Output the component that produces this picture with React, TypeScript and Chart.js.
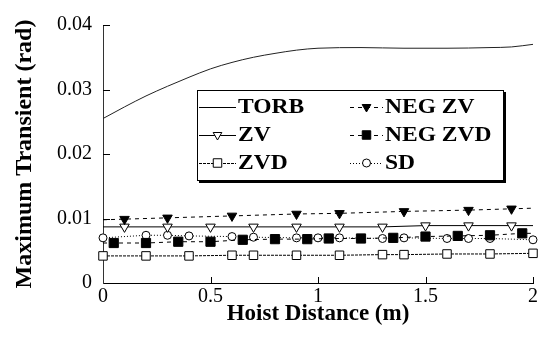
import React, { useEffect, useRef } from 'react';
import { Chart, registerables } from 'chart.js';

Chart.register(...registerables);

// ---------- data ----------
const X_TICKS = [0, 0.5, 1, 1.5, 2];
const X_TICK_LABELS = ['0', '0.5', '1', '1.5', '2'];
const Y_TICKS = [0, 0.01, 0.02, 0.03, 0.04];
const Y_TICK_LABELS = ['0', '0.01', '0.02', '0.03', '0.04'];

const TORB_X = [0, 0.1, 0.2, 0.3, 0.4, 0.5, 0.6, 0.7, 0.8, 0.9, 1.0, 1.2, 1.4, 1.6, 1.8, 1.9, 2.0];
const TORB_Y = [0.0255, 0.0273, 0.029, 0.0305, 0.0319, 0.0332, 0.0342, 0.035, 0.0356, 0.0361, 0.0364, 0.0365, 0.0364, 0.0364, 0.0365, 0.0366, 0.037];

const NEG_ZV_X = [0, 0.1, 0.3, 0.6, 0.9, 1.1, 1.4, 1.7, 1.9, 2.0];
const NEG_ZV_Y = [0.0098, 0.0099, 0.0101, 0.0104, 0.0107, 0.0108, 0.0111, 0.0113, 0.0115, 0.0116];

const ZV_X = [0, 0.1, 0.3, 0.5, 0.7, 0.9, 1.1, 1.3, 1.5, 1.7, 1.9, 2.0];
const ZV_Y = [0.0087, 0.0087, 0.0087, 0.0087, 0.0087, 0.0087, 0.0087, 0.0087, 0.0089, 0.0089, 0.0089, 0.0089];

const NEG_ZVD_X = [0, 0.05, 0.2, 0.35, 0.5, 0.65, 0.8, 0.95, 1.05, 1.2, 1.35, 1.5, 1.65, 1.8, 1.95, 2.0];
const NEG_ZVD_Y = [0.0062, 0.0062, 0.0062, 0.0064, 0.0064, 0.0067, 0.0068, 0.0068, 0.0069, 0.0069, 0.007, 0.0072, 0.0073, 0.0074, 0.0077, 0.0077];

const ZVD_X = [0, 0.2, 0.4, 0.6, 0.7, 0.9, 1.1, 1.3, 1.4, 1.6, 1.8, 2.0];
const ZVD_Y = [0.0042, 0.0042, 0.0042, 0.0043, 0.0043, 0.0043, 0.0043, 0.0044, 0.0044, 0.0045, 0.0045, 0.0046];

const SD_X = [0, 0.2, 0.3, 0.4, 0.6, 0.7, 0.9, 1.0, 1.1, 1.3, 1.4, 1.6, 1.7, 1.8, 2.0];
const SD_Y = [0.007, 0.0074, 0.0074, 0.0073, 0.0072, 0.0071, 0.007, 0.007, 0.007, 0.0069, 0.007, 0.0069, 0.0069, 0.0069, 0.0067];

const SERIES_LABELS = ['TORB', 'NEG ZV', 'ZV', 'NEG ZVD', 'ZVD', 'SD'];

// ---------- helpers ----------
const pts = (xs: number[], ys: number[]) => xs.map((x, i) => ({ x, y: ys[i] }));
const radiiNoEnds = (xs: number[], r: number) => xs.map((_, i) => (i === 0 || i === xs.length - 1 ? 0 : r));

const SERIF = '"Liberation Serif", "Times New Roman", serif';

function drawMarker(ctx: CanvasRenderingContext2D, style: string, x: number, y: number, r: number, fill: string) {
  ctx.save();
  ctx.beginPath();
  if (style === 'triangleDown') {
    ctx.moveTo(x - r * 0.866, y - r * 0.5);
    ctx.lineTo(x + r * 0.866, y - r * 0.5);
    ctx.lineTo(x, y + r);
    ctx.closePath();
  } else if (style === 'rect') {
    const s = r * Math.SQRT1_2;
    ctx.rect(x - s, y - s, 2 * s, 2 * s);
  } else if (style === 'circle') {
    ctx.arc(x, y, r, 0, Math.PI * 2);
  }
  ctx.fillStyle = fill;
  ctx.fill();
  ctx.strokeStyle = '#000';
  ctx.lineWidth = 1;
  ctx.setLineDash([]);
  ctx.stroke();
  ctx.restore();
}

const inwardTicks = {
  id: 'inwardTicks',
  afterDraw(chart: any) {
    const { ctx, chartArea } = chart;
    const xs = chart.scales.x;
    const ys = chart.scales.y;
    ctx.save();
    ctx.strokeStyle = '#000';
    ctx.lineWidth = 1;
    X_TICKS.forEach((v) => {
      if (v === X_TICKS[0]) return;
      const px = Math.round(xs.getPixelForValue(v)) + 0.5;
      ctx.beginPath();
      ctx.moveTo(px, chartArea.bottom);
      ctx.lineTo(px, chartArea.bottom - 6);
      ctx.stroke();
    });
    Y_TICKS.forEach((v) => {
      if (v === Y_TICKS[0]) return;
      const py = Math.round(ys.getPixelForValue(v)) + 0.5;
      ctx.beginPath();
      ctx.moveTo(chartArea.left, py);
      ctx.lineTo(chartArea.left + 7, py);
      ctx.stroke();
    });
    ctx.restore();
  },
};

const boxLegend = {
  id: 'boxLegend',
  afterDraw(chart: any) {
    const ctx: CanvasRenderingContext2D = chart.ctx;
    const L = 197, T = 90, R = 503, B = 180;
    ctx.save();
    ctx.fillStyle = '#fff';
    ctx.fillRect(L, T, R - L, B - T);
    ctx.strokeStyle = '#000';
    ctx.lineWidth = 1;
    ctx.setLineDash([]);
    ctx.strokeRect(L + 0.5, T + 0.5, R - L, B - T);
    ctx.lineWidth = 2;
    ctx.beginPath();
    ctx.moveTo(L + 2, B + 2);
    ctx.lineTo(R + 2, B + 2);
    ctx.lineTo(R + 2, T + 2);
    ctx.stroke();

    chart.data.datasets.forEach((ds: any, i: number) => {
      const col = i % 2;
      const row = Math.floor(i / 2);
      const sx = col === 0 ? 199 : 350;
      const ex = col === 0 ? 236 : 383;
      const y = 107 + row * 28;
      ctx.save();
      ctx.strokeStyle = '#000';
      ctx.lineWidth = 1;
      ctx.setLineDash(ds.borderDash || []);
      ctx.beginPath();
      ctx.moveTo(sx, y + 0.5);
      ctx.lineTo(ex, y + 0.5);
      ctx.stroke();
      ctx.restore();
      if (ds.legendMarker) {
        drawMarker(ctx, ds.legendMarker, (sx + ex) / 2, y, ds.legendRadius, ds.pointBackgroundColor);
      }
      ctx.save();
      ctx.fillStyle = '#000';
      ctx.font = `bold 21px ${SERIF}`;
      ctx.textBaseline = 'middle';
      ctx.translate(ex + 2, y + 1);
      ctx.scale(1.12, 1);
      ctx.fillText(ds.label, 0, 0);
      ctx.restore();
    });
    ctx.restore();
  },
};

export default function App() {
  const ref = useRef<HTMLCanvasElement | null>(null);

  useEffect(() => {
    document.body.style.margin = '0';
    const canvas = ref.current;
    if (!canvas) return;

    const base = {
      showLine: true,
      borderColor: '#000',
      borderWidth: 1,
      pointBorderColor: '#000',
      pointBorderWidth: 1,
      clip: false as any,
    };

    const chart = new Chart(canvas, {
      type: 'scatter',
      data: {
        datasets: [
          {
            ...base,
            label: SERIES_LABELS[0],
            data: pts(TORB_X, TORB_Y),
            pointRadius: 0,
            cubicInterpolationMode: 'monotone',
            borderColor: '#222',
            legendMarker: null,
          } as any,
          {
            ...base,
            label: SERIES_LABELS[1],
            data: pts(NEG_ZV_X, NEG_ZV_Y),
            borderDash: [4, 4],
            pointStyle: 'triangle',
            pointRotation: 180,
            pointRadius: radiiNoEnds(NEG_ZV_X, 5.5),
            pointBackgroundColor: '#000',
            legendMarker: 'triangleDown',
            legendRadius: 5,
          } as any,
          {
            ...base,
            label: SERIES_LABELS[2],
            data: pts(ZV_X, ZV_Y),
            pointStyle: 'triangle',
            pointRotation: 180,
            pointRadius: radiiNoEnds(ZV_X, 5.5),
            pointBackgroundColor: '#fff',
            legendMarker: 'triangleDown',
            legendRadius: 5,
          } as any,
          {
            ...base,
            label: SERIES_LABELS[3],
            data: pts(NEG_ZVD_X, NEG_ZVD_Y),
            borderDash: [4, 4],
            pointStyle: 'rect',
            pointRadius: radiiNoEnds(NEG_ZVD_X, 6.5),
            pointBackgroundColor: '#000',
            legendMarker: 'rect',
            legendRadius: 6,
          } as any,
          {
            ...base,
            label: SERIES_LABELS[4],
            data: pts(ZVD_X, ZVD_Y),
            borderDash: [3, 1],
            pointStyle: 'rect',
            pointRadius: ZVD_X.map(() => 6),
            pointBackgroundColor: '#fff',
            legendMarker: 'rect',
            legendRadius: 6,
          } as any,
          {
            ...base,
            label: SERIES_LABELS[5],
            data: pts(SD_X, SD_Y),
            borderDash: [1, 2],
            pointStyle: 'circle',
            pointRadius: SD_X.map(() => 4),
            pointBackgroundColor: '#fff',
            legendMarker: 'circle',
            legendRadius: 4,
          } as any,
        ],
      },
      options: {
        animation: false,
        responsive: false,
        maintainAspectRatio: false,
        devicePixelRatio: 1,
        layout: { padding: { top: 25, right: 11, bottom: 0, left: 0 } },
        plugins: {
          legend: { display: false },
          tooltip: { enabled: false },
        },
        scales: {
          x: {
            type: 'linear',
            min: 0,
            max: 2,
            afterBuildTicks: (s: any) => {
              s.ticks = X_TICKS.map((v) => ({ value: v }));
            },
            afterFit: (s: any) => {
              s.height = 55;
            },
            grid: { display: false, drawTicks: false },
            border: { display: true, color: '#000', width: 1 },
            ticks: {
              color: '#000',
              padding: 2,
              maxRotation: 0,
              autoSkip: false,
              font: { family: SERIF, size: 20 },
              callback: (v: any) => {
                const i = X_TICKS.indexOf(Number(v));
                return i >= 0 ? X_TICK_LABELS[i] : '';
              },
            },
            title: {
              display: true,
              text: 'Hoist Distance (m)',
              color: '#000',
              font: { family: SERIF, size: 23, weight: 'bold' },
              padding: { top: 0, bottom: 10 },
            },
          },
          y: {
            type: 'linear',
            min: 0,
            max: 0.04,
            afterBuildTicks: (s: any) => {
              s.ticks = Y_TICKS.map((v) => ({ value: v }));
            },
            afterFit: (s: any) => {
              s.width = 103;
            },
            grid: { display: false, drawTicks: false },
            border: { display: true, color: '#333', width: 1, dash: [2, 1] },
            ticks: {
              color: '#000',
              padding: 11,
              autoSkip: false,
              font: { family: SERIF, size: 20 },
              callback: (v: any) => {
                const i = Y_TICKS.findIndex((t) => Math.abs(t - Number(v)) < 1e-9);
                return i >= 0 ? Y_TICK_LABELS[i] : '';
              },
            },
            title: {
              display: true,
              text: 'Maximum Transient (rad)',
              color: '#000',
              font: { family: SERIF, size: 24, weight: 'bold' },
              padding: { top: 10, bottom: 0 },
            },
          },
        },
      } as any,
      plugins: [inwardTicks, boxLegend],
    });

    return () => chart.destroy();
  }, []);

  return (
    <div style={{ position: 'absolute', left: 0, top: 0, width: 544, height: 338, background: '#fff' }}>
      <canvas ref={ref} width={544} height={338} />
    </div>
  );
}
